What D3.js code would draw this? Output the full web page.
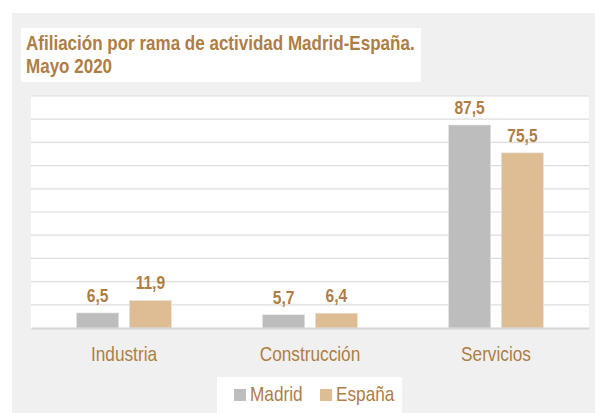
<!DOCTYPE html>
<html>
<head>
<meta charset="utf-8">
<script src="https://cdn.jsdelivr.net/npm/d3@7"></script>
<style>
  body { margin: 0; background: #fff; }
  text { font-family: "Liberation Sans", Arial, sans-serif; }
</style>
</head>
<body>
<script>
// data
var categories = ["Industria", "Construcción", "Servicios"];
var series = ["Madrid", "España"];
var madrid = [6.5, 5.7, 87.5];
var espana = [11.9, 6.4, 75.5];
var yTicks = [0, 10, 20, 30, 40, 50, 60, 70, 80, 90, 100];

var brown = "#ae7e45";
var colors = { "Madrid": "#bdbdbd", "España": "#dfbd94" };

// squeeze text to look like a condensed face
function condense(sel, k) {
  sel.each(function() {
    var w = this.getComputedTextLength();
    d3.select(this).attr("textLength", w * k).attr("lengthAdjust", "spacingAndGlyphs");
  });
}

var svg = d3.select("body").append("svg")
  .attr("width", 595)
  .attr("height", 413);

// grey panel
svg.append("rect").attr("x", 12).attr("y", 13).attr("width", 583).attr("height", 400).attr("fill", "#f0f0f0");

// title box
svg.append("rect").attr("x", 21).attr("y", 28).attr("width", 400).attr("height", 54).attr("fill", "#fff");
var titleLines = ["Afiliación por rama de actividad Madrid-España.", "Mayo 2020"];
svg.selectAll(".title")
  .data(titleLines)
  .enter().append("text")
  .attr("class", "title")
  .attr("x", 26)
  .attr("y", function(d, i) { return 50 + i * 23; })
  .attr("fill", brown)
  .style("font-weight", "bold")
  .style("font-size", "20.5px")
  .text(function(d) { return d; })
  .call(condense, 0.83);

// plot area
var pLeft = 31, pRight = 589, pTop = 96, pBottom = 328;
svg.append("rect").attr("x", pLeft).attr("y", pTop).attr("width", pRight - pLeft).attr("height", pBottom - pTop).attr("fill", "#fff");

var x0 = d3.scaleBand().domain(categories).range([pLeft, pRight]);
var x1 = d3.scaleBand().domain(series).range([-47.5, 47.5]).paddingInner(0.2);
var y = d3.scaleLinear().domain([0, 100]).range([pBottom, pTop]);

// gridlines
svg.append("g").selectAll("line")
  .data(yTicks.slice(1))
  .enter().append("line")
  .attr("x1", pLeft).attr("x2", pRight)
  .attr("y1", function(d) { return y(d); })
  .attr("y2", function(d) { return y(d); })
  .attr("stroke", "#dcdcdc")
  .attr("stroke-width", 1.2);

var rows = categories.map(function(c, i) {
  return [{ cat: c, s: "Madrid", v: madrid[i] }, { cat: c, s: "España", v: espana[i] }];
});

var groups = svg.append("g").selectAll("g")
  .data(rows)
  .enter().append("g")
  .attr("transform", function(d) { return "translate(" + (x0(d[0].cat) + x0.bandwidth() / 2) + ",0)"; });

groups.selectAll("rect")
  .data(function(d) { return d; })
  .enter().append("rect")
  .attr("x", function(d) { return x1(d.s); })
  .attr("y", function(d) { return y(d.v); })
  .attr("width", x1.bandwidth())
  .attr("height", function(d) { return pBottom - y(d.v); })
  .attr("fill", function(d) { return colors[d.s]; })
  .attr("stroke", "#e6e6e6")
  .attr("stroke-width", 0.6);

groups.selectAll("text")
  .data(function(d) { return d; })
  .enter().append("text")
  .attr("x", function(d) { return x1(d.s) + x1.bandwidth() / 2; })
  .attr("y", function(d) { return y(d.v) - 11; })
  .attr("text-anchor", "middle")
  .attr("fill", brown)
  .style("font-weight", "bold")
  .style("font-size", "19px")
  .text(function(d) { return d3.format(".1f")(d.v).replace(".", ","); })
  .call(condense, 0.82);

// x axis
var xAxis = svg.append("g")
  .attr("transform", "translate(0," + pBottom + ")")
  .call(d3.axisBottom(x0).tickSize(0).tickPadding(18));
xAxis.select(".domain").attr("stroke", "#d6d6d6").attr("stroke-width", 2);
xAxis.selectAll("text")
  .attr("fill", brown)
  .style("font-size", "21px")
  .style("font-family", "'Liberation Sans', Arial, sans-serif")
  .call(condense, 0.82);

// legend
svg.append("rect").attr("x", 217).attr("y", 377).attr("width", 185).attr("height", 36).attr("fill", "#fff");
var legendX = [234, 320];
var legend = svg.selectAll(".legend")
  .data(series)
  .enter().append("g")
  .attr("class", "legend")
  .attr("transform", function(d, i) { return "translate(" + legendX[i] + ",389)"; });
legend.append("rect").attr("width", 12).attr("height", 12).attr("fill", function(d) { return colors[d]; });
legend.append("text")
  .attr("x", 16).attr("y", 12)
  .attr("fill", brown)
  .style("font-size", "21px")
  .text(function(d) { return d; })
  .call(condense, 0.82);
</script>
</body>
</html>
